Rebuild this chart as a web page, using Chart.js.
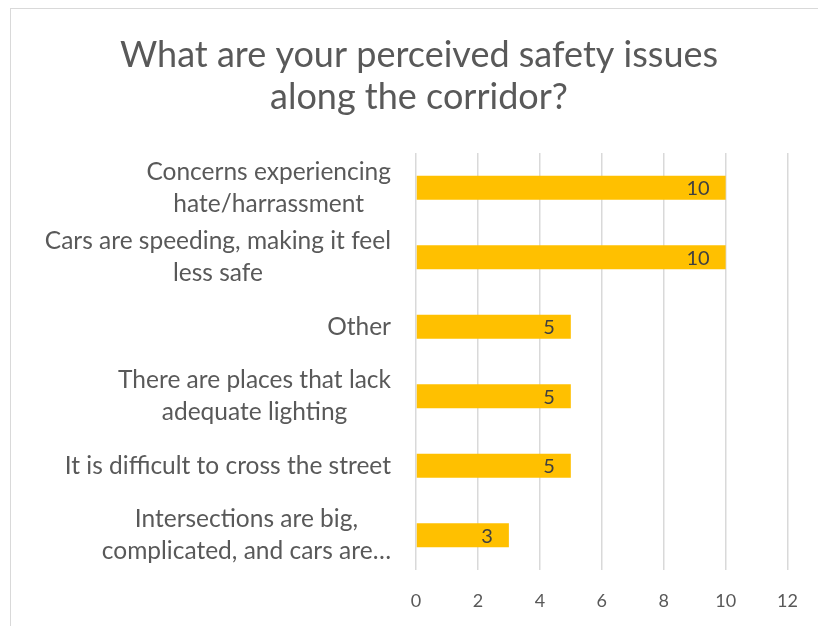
<!DOCTYPE html>
<html>
<head>
<meta charset="utf-8">
<script src="https://cdn.jsdelivr.net/npm/chart.js@4.4.1/dist/chart.umd.min.js"></script>
<style>
  html, body { margin: 0; padding: 0; background: #ffffff; }
  #wrap { position: relative; width: 818px; height: 626px; overflow: hidden; }
  #frame { position: absolute; left: 10px; top: 8px; width: 830px; height: 640px; border: 1px solid #d9d9d9; box-sizing: border-box; }
  #c { position: absolute; left: 0; top: 0; }
</style>
</head>
<body>
<div id="wrap">
  <div id="frame"></div>
  <canvas id="c" width="818" height="626"></canvas>
</div>
<script>
const titleLines = ["What are your perceived safety issues", "along the corridor?"];
const categories = [
  ["Concerns experiencing", "hate/harrassment"],
  ["Cars are speeding, making it feel", "less safe"],
  ["Other"],
  ["There are places that lack", "adequate lighting"],
  ["It is difficult to cross the street"],
  ["Intersections are big,", "complicated, and cars are…"]
];
const values = [10, 10, 5, 5, 5, 3];
const xTicks = [0, 2, 4, 6, 8, 10, 12];

const FONT = "Lato, 'Open Sans', sans-serif";

const titlePlugin = {
  id: 'titleText',
  afterDraw(chart) {
    const ctx = chart.ctx;
    ctx.save();
    ctx.font = "36px " + FONT;
    ctx.fillStyle = "#595959";
    ctx.textAlign = "center";
    ctx.textBaseline = "middle";
    titleLines.forEach((l, i) => ctx.fillText(l, 419, 55 + i * 42));
    ctx.restore();
  }
};

const dataLabels = {
  id: 'dataLabels',
  afterDatasetsDraw(chart) {
    const ctx = chart.ctx;
    const meta = chart.getDatasetMeta(0);
    ctx.save();
    ctx.font = "20px " + FONT;
    ctx.fillStyle = "#404040";
    ctx.textAlign = "right";
    ctx.textBaseline = "middle";
    meta.data.forEach((bar, i) => {
      ctx.fillText(String(values[i]), bar.x - 16, bar.y + 1);
    });
    ctx.restore();
  }
};

// Category labels: block right-aligned to the axis, lines centred within the block
const catLabels = {
  id: 'catLabels',
  afterDraw(chart) {
    const ctx = chart.ctx;
    const y = chart.scales.y;
    const rightEdge = chart.chartArea.left - 25;
    const lh = 32;
    ctx.save();
    ctx.font = "24.5px " + FONT;
    ctx.fillStyle = "#595959";
    ctx.textAlign = "center";
    ctx.textBaseline = "middle";
    categories.forEach((lines, i) => {
      const cy = y.getPixelForValue(i);
      const maxW = Math.max(...lines.map(l => ctx.measureText(l).width));
      const cx = rightEdge - maxW / 2;
      const y0 = cy - (lines.length - 1) * lh / 2;
      lines.forEach((l, j) => ctx.fillText(l, cx, y0 + j * lh));
    });
    ctx.restore();
  }
};

new Chart(document.getElementById('c'), {
  type: 'bar',
  data: {
    labels: categories,
    datasets: [{
      data: values,
      backgroundColor: '#FFC000',
      borderWidth: 0,
      categoryPercentage: 1,
      barPercentage: 0.345
    }]
  },
  options: {
    indexAxis: 'y',
    responsive: false,
    animation: false,
    layout: { padding: { left: 0, right: 30, top: 153, bottom: 0 } },
    plugins: {
      legend: { display: false },
      tooltip: { enabled: false },
      title: { display: false }
    },
    scales: {
      x: {
        min: 0, max: 12,
        afterBuildTicks: (s) => { s.ticks = xTicks.map(v => ({ value: v })); },
        afterFit: (s) => { s.height = 56; },
        grid: { color: '#d9d9d9', lineWidth: 1.5, drawTicks: false },
        border: { display: false },
        ticks: { color: '#595959', font: { family: FONT, size: 18 }, padding: 20 }
      },
      y: {
        afterFit: (s) => { s.width = 416; },
        grid: { display: false, drawTicks: false },
        border: { display: false },
        ticks: { display: false }
      }
    }
  },
  plugins: [dataLabels, catLabels, titlePlugin]
});
</script>
</body>
</html>
